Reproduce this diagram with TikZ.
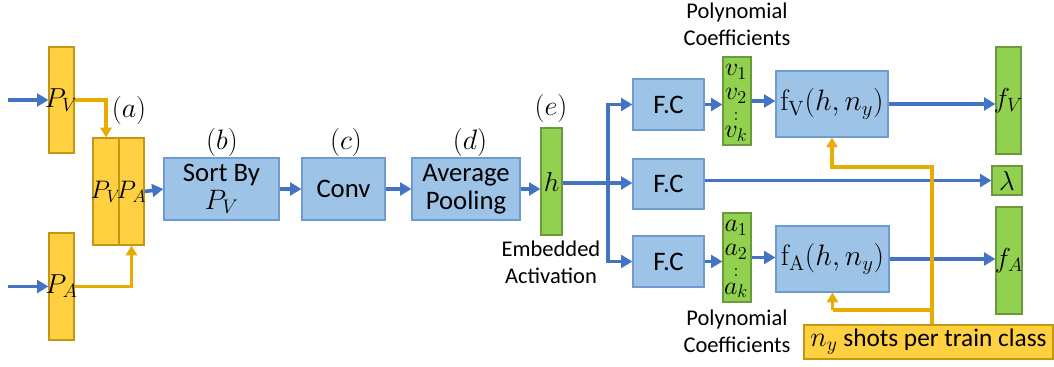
\RequirePackage{fix-cm}
\documentclass[tikz,border=0pt]{standalone}
\usepackage[no-math]{fontspec}
\setmainfont{Carlito}
\usetikzlibrary{arrows.meta,calc}
\definecolor{boxblue}{RGB}{157,195,230}
\definecolor{edgeblue}{RGB}{110,155,210}
\definecolor{lineblue}{RGB}{68,114,196}
\definecolor{boxyellow}{RGB}{255,208,64}
\definecolor{edgeyellow}{RGB}{195,150,20}
\definecolor{lineyellow}{RGB}{232,172,0}
\definecolor{boxgreen}{RGB}{146,208,80}
\definecolor{edgegreen}{RGB}{105,155,60}
\newcommand{\zw}[1]{\makebox[0pt]{#1}}
\tikzset{
  bbox/.style={draw=edgeblue, fill=boxblue, line width=0.8pt, inner sep=0pt, align=center, font=\fontsize{19}{24}\selectfont},
  ybox/.style={draw=edgeyellow, fill=boxyellow, line width=0.8pt, inner sep=0pt, font=\fontsize{19.5}{24}\selectfont},
  gbox/.style={draw=edgegreen, fill=boxgreen, line width=0.8pt, inner sep=0pt, font=\fontsize{19.5}{24}\selectfont},
  barrow/.style={draw=lineblue, line width=2.6pt, -{Triangle[length=8pt,width=9pt]}},
  yarrow/.style={draw=lineyellow, line width=2.2pt, -{Triangle[length=7pt,width=8pt]}},
  lbl/.style={font=\fontsize{20}{24}\selectfont},
  note/.style={align=center, font=\fontsize{16}{19}\selectfont},
  coef/.style={inner sep=0pt, anchor=base, font=\fontsize{18.5}{22}\selectfont},
  cdots/.style={inner sep=0pt, font=\fontsize{13}{15}\selectfont}
}
\begin{document}
\begin{tikzpicture}[x=0.025cm,y=-0.025cm]
\useasboundingbox (0,0) rectangle (1054,367);

\node[ybox, minimum width=0.625cm, minimum height=2.65cm] (pv) at (61.5,100) {\zw{$P_V$}};
\node[ybox, minimum width=0.625cm, minimum height=2.675cm] (pa) at (61.5,286.5) {\zw{$P_A$}};
\node[ybox, minimum width=0.65cm, minimum height=2.675cm, font=\fontsize{18}{24}\selectfont] (pvc) at (106,191.5) {\zw{$P_V$}};
\node[ybox, minimum width=0.625cm, minimum height=2.675cm, font=\fontsize{18}{24}\selectfont] (pac) at (131.5,191.5) {\zw{$P_A$}};
\coordinate (inv) at (8,100);
\coordinate (ina) at (8,286.5);

\node[bbox, minimum width=2.875cm, minimum height=1.55cm] (sort) at (221.5,189) {Sort By\\[-4pt]{\fontsize{20}{24}\selectfont$P_V$}};
\node[bbox, minimum width=2.075cm, minimum height=1.55cm] (conv) at (343.5,189) {Conv};
\node[bbox, minimum width=2.7cm, minimum height=1.55cm] (pool) at (466,189) {Average\\[-4pt]Pooling};
\node[gbox, minimum width=0.525cm, minimum height=2.675cm] (h) at (551.5,181.5) {\zw{$h$}};

\node[lbl] (la) at (129,110) {$(a)$};
\node[lbl] (lb) at (222,142) {$(b)$};
\node[lbl] (lc) at (346,142) {$(c)$};
\node[lbl] (ld) at (470,142) {$(d)$};
\node[lbl] (le) at (551,108) {$(e)$};
\node[note] (emb) at (551,262) {Embedded\\Activation};

\node[bbox, minimum width=1.775cm, minimum height=1.275cm] (fc1) at (668.5,104.5) {F.C};
\node[bbox, minimum width=1.775cm, minimum height=1.25cm] (fc2) at (668.5,184) {F.C};
\node[bbox, minimum width=1.775cm, minimum height=1.275cm] (fc3) at (668.5,261.5) {F.C};
\coordinate (sp) at (608,183);

\node[gbox, minimum width=0.7cm, minimum height=2.2cm] (vco) at (737,101) {};
\node[coef] (v1) at (736,76) {$v_1$};
\node[coef] (v2) at (736,100) {$v_2$};
\node[cdots] (vd) at (736,116.5) {$:$};
\node[coef] (vk) at (736,138) {$v_k$};
\node[gbox, minimum width=0.7cm, minimum height=2.225cm] (aco) at (737,257.5) {};
\node[coef] (a1) at (736,232) {$a_1$};
\node[coef] (a2) at (736,256) {$a_2$};
\node[cdots] (ad) at (736,272.5) {$:$};
\node[coef] (ak) at (736,294) {$a_k$};
\node[note] (pc1) at (737,24) {Polynomial\\Coefficients};
\node[note] (pc2) at (737,331) {Polynomial\\Coefficients};

\node[bbox, minimum width=2.8cm, minimum height=1.65cm, font=\fontsize{21}{24}\selectfont] (fv) at (832,104) {\zw{$\mathrm{f}_{\mathrm{V}}(h,n_y)$}};
\node[bbox, minimum width=2.825cm, minimum height=1.65cm, font=\fontsize{21}{24}\selectfont] (fa) at (832.5,259) {\zw{$\mathrm{f}_{\mathrm{A}}(h,n_y)$}};

\node[gbox, minimum width=0.625cm, minimum height=2.675cm] (outv) at (1008.5,100.5) {\zw{$f_V$}};
\node[gbox, minimum width=0.75cm, minimum height=0.725cm] (lam) at (1007,180.5) {$\lambda$};
\node[gbox, minimum width=0.65cm, minimum height=2.675cm] (outa) at (1009,260.5) {\zw{$f_A$}};

\node[ybox, minimum width=6.225cm, minimum height=0.85cm, font=\fontsize{18}{22}\selectfont] (shots) at (928.5,342) {{\fontsize{20}{22}\selectfont$n_y$} shots per train class};
\coordinate (yj) at (932,167);
\coordinate (yk) at (932,310);

\draw[barrow] (inv) -- (pv.west);
\draw[barrow] (ina) -- (pa.west);
\draw[yarrow] (pv.east) -| (pvc.north);
\draw[yarrow] (pa.east) -| (pac.south);
\draw[barrow] (pac.east) -- (sort.west);
\draw[barrow] (sort) -- (conv);
\draw[barrow] (conv) -- (pool);
\draw[barrow] (pool.east) -- (pool.east -| h.west);
\draw[barrow] (h.east |- sp) -- (sp -| fc2.west);
\draw[barrow] (sp) |- (fc1.west);
\draw[barrow] (sp) |- (fc3.west);
\draw[barrow] (fc1.east) -- (fc1.east -| vco.west);
\draw[barrow] (fc3.east) -- (fc3.east -| aco.west);
\draw[barrow] (vco.east) -- (vco.east -| fv.west);
\draw[barrow] (aco.east) -- (aco.east -| fa.west);
\draw[barrow] (fv.east) -- (fv.east -| outv.west);
\draw[barrow] (fc2.east |- lam) -- (lam.west);
\draw[barrow] (fa.east) -- (fa.east -| outa.west);
\draw[yarrow] (shots.north -| yj) -- (yj) -| (fv.south);
\draw[yarrow, -] (yk) -- (yk -| fa.south);
\draw[yarrow] (yk -| fa.south) -- (fa.south);
\end{tikzpicture}
\end{document}
